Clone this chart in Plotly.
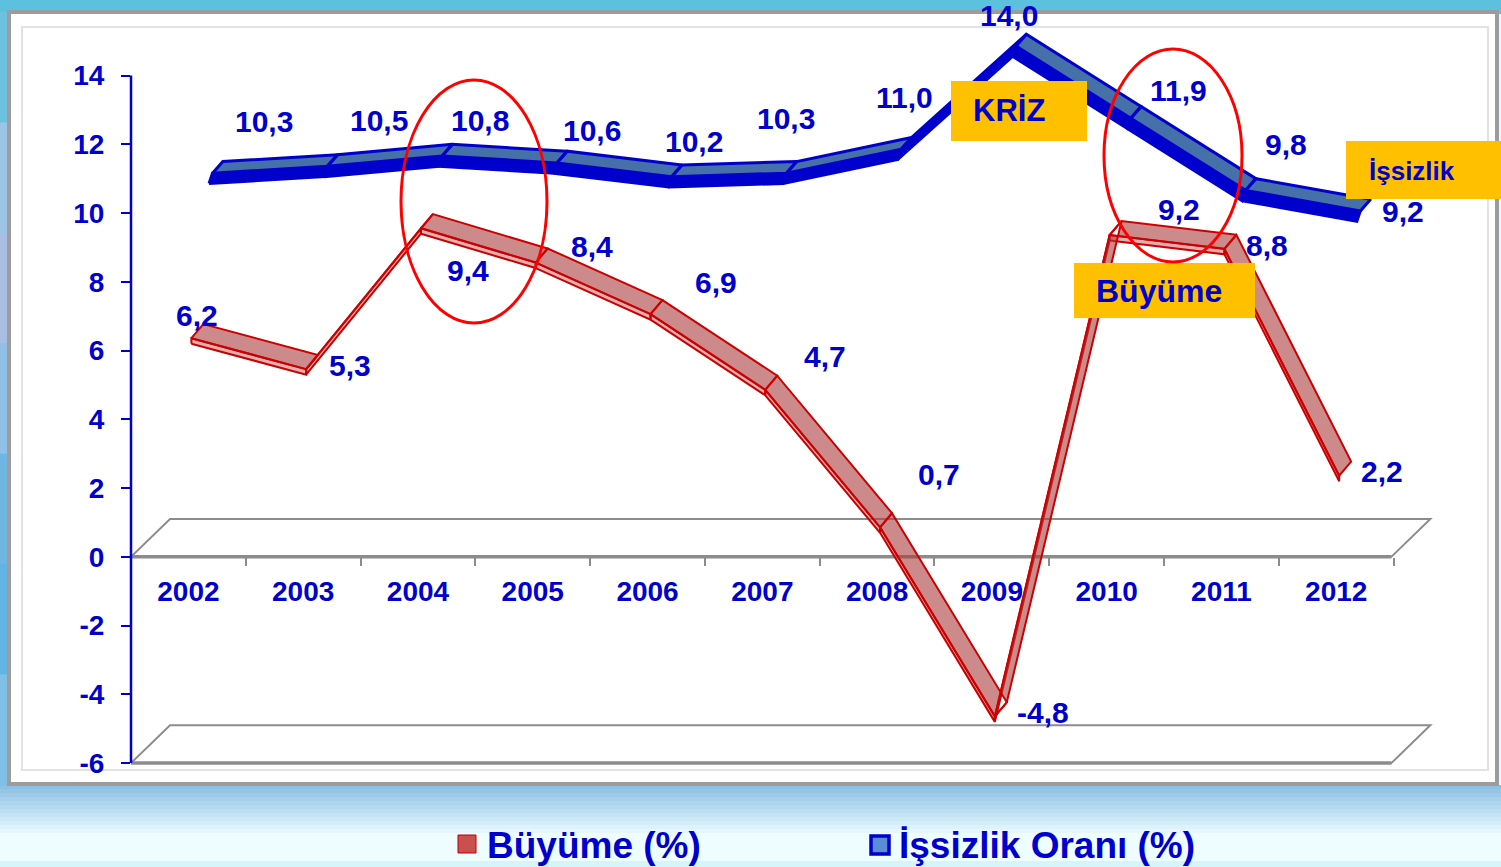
import plotly.graph_objects as go

# ---------------- data ----------------
years = ['2002', '2003', '2004', '2005', '2006', '2007', '2008', '2009', '2010', '2011', '2012']
buyume = [6.2, 5.3, 9.4, 8.4, 6.9, 4.7, 0.7, -4.8, 9.2, 8.8, 2.2]
issizlik = [10.3, 10.5, 10.8, 10.6, 10.2, 10.3, 11.0, 14.0, 11.9, 9.8, 9.2]
y_ticks = [-6, -4, -2, 0, 2, 4, 6, 8, 10, 12, 14]
series_names = ['Büyüme (%)', 'İşsizlik Oranı (%)']
callouts = ['KRİZ', 'İşsizlik', 'Büyüme']

# ---------------- layout constants ----------------
W, H = 1501, 867
ML, MR, MT, MB = 131, 50, 24, 97
PW, PH = W - ML - MR, H - MT - MB
XR = [-0.5, 11.0]
YR = [-6.2, 15.5]
BLUE = '#0000CC'
FONT = 'Liberation Sans, Arial, sans-serif'


def xp(px):
    return (px - ML) / PW


def yp(py):
    return (H - MB - py) / PH


def ydata_to_paper(v):
    return (v - YR[0]) / (YR[1] - YR[0])


def fmt(v):
    return f'{v:.1f}'.replace('.', ',')


def band(vals, a, b):
    """3D ribbon: one parallelogram per segment between offset a and offset b."""
    xs, ys = [], []
    for i in range(len(vals) - 1):
        f0 = (i + a[0], vals[i] + a[1])
        f1 = (i + 1 + a[0], vals[i + 1] + a[1])
        b1 = (i + 1 + b[0], vals[i + 1] + b[1])
        b0 = (i + b[0], vals[i] + b[1])
        for p in (f0, f1, b1, b0, f0):
            xs.append(p[0])
            ys.append(p[1])
        xs.append(None)
        ys.append(None)
    return xs, ys


fig = go.Figure()

# İşsizlik ribbon (back row)
xs, ys = band(issizlik, (0.18, 0.56), (0.21, 0.86))
fig.add_trace(go.Scatter(x=xs, y=ys, mode='lines', fill='toself', fillcolor=BLUE,
                         line=dict(color=BLUE, width=3), hoverinfo='skip', showlegend=False))
xs, ys = band(issizlik, (0.21, 0.86), (0.30, 1.2))
fig.add_trace(go.Scatter(x=xs, y=ys, mode='lines', fill='toself', fillcolor='#4670A8',
                         line=dict(color=BLUE, width=3), hoverinfo='skip', showlegend=False))

# Büyüme ribbon (front row)
xs, ys = band(buyume, (0.026, 0.0), (0.026, 0.16))
fig.add_trace(go.Scatter(x=xs, y=ys, mode='lines', fill='toself', fillcolor='rgba(200,110,110,0.55)',
                         line=dict(color='#CC0000', width=2), hoverinfo='skip', showlegend=False))
xs, ys = band(buyume, (0.026, 0.16), (0.13, 0.57))
fig.add_trace(go.Scatter(x=xs, y=ys, mode='lines', fill='toself', fillcolor='rgba(170,60,60,0.6)',
                         line=dict(color='#CC0000', width=2), hoverinfo='skip', showlegend=False))

shapes = []
annotations = []

# ---------- background decoration ----------
top_c, mid_c, bot_c = (141, 192, 227), (238, 253, 255), (214, 245, 250)
for k in range(21):
    y0 = 785 + k * 4
    t = min(1.0, k / 12)
    c = tuple(int(top_c[j] + (mid_c[j] - top_c[j]) * t) for j in range(3))
    if k >= 19:
        c = bot_c
    shapes.append(dict(type='rect', xref='paper', yref='paper', layer='below',
                       x0=xp(0), x1=xp(W), y0=yp(y0 + 4.5), y1=yp(y0),
                       fillcolor='rgb(%d,%d,%d)' % c, line=dict(width=0)))
shapes.append(dict(type='rect', xref='paper', yref='paper', layer='below',
                   x0=xp(0), x1=xp(W), y0=yp(14), y1=yp(0),
                   fillcolor='#5CC1DC', line=dict(width=0)))
left_cols = ['#6cc2de', '#9cc4e4', '#aabde2', '#90c0e6', '#6fb6e2', '#62b4e2', '#7fc0e6']
step = (785 - 12) / len(left_cols)
for k, c in enumerate(left_cols):
    shapes.append(dict(type='rect', xref='paper', yref='paper', layer='below',
                       x0=xp(0), x1=xp(9), y0=yp(12 + (k + 1) * step + 1), y1=yp(12 + k * step),
                       fillcolor=c, line=dict(width=0)))
shapes.append(dict(type='rect', xref='paper', yref='paper', layer='below',
                   x0=xp(9), x1=xp(1497), y0=yp(784), y1=yp(12),
                   fillcolor='white', line=dict(color='#9C9C9C', width=4)))
shapes.append(dict(type='rect', xref='paper', yref='paper', layer='below',
                   x0=xp(22), x1=xp(1488), y0=yp(770), y1=yp(27),
                   fillcolor='rgba(0,0,0,0)', line=dict(color='#E2E2E2', width=2)))

# ---------- 3D floor planes ----------
DX, DY = 0.34, 1.1
X_END = 10.48
for base in (0, -6):
    shapes.append(dict(type='path', xref='x', yref='y', layer='below',
                       path=f'M {XR[0]},{base} L {X_END},{base} L {X_END + DX},{base + DY} '
                            f'L {XR[0] + DX},{base + DY} Z',
                       line=dict(color='#8C8C8C', width=2)))
    shapes.append(dict(type='line', xref='x', yref='y', layer='below',
                       x0=XR[0], x1=X_END, y0=base, y1=base,
                       line=dict(color='#8C8C8C', width=3.5)))

shapes.append(dict(type='line', xref='paper', yref='paper', layer='above',
                   x0=0, x1=0, y0=ydata_to_paper(y_ticks[0]), y1=ydata_to_paper(y_ticks[-1]),
                   line=dict(color=BLUE, width=2.5)))

# ---------- data labels ----------
iss_off = [(76, -81), (76, -75), (62, -65), (59, -62), (46, -65), (24, -84),
           (27, -81), (17, -60), (72, -57), (65, -75), (67, -29)]
buy_off = [(9, -28), (47, -9), (50, 37), (59, -22), (68, -37), (63, -39),
           (62, -58), (51, -9), (72, -31), (46, -9), (46, -10)]
for i, v in enumerate(issizlik):
    annotations.append(dict(x=i, y=v, xref='x', yref='y', text=f'<b>{fmt(v)}</b>',
                            showarrow=False, xshift=iss_off[i][0], yshift=-iss_off[i][1],
                            font=dict(family=FONT, size=30, color=BLUE)))
for i, v in enumerate(buyume):
    annotations.append(dict(x=i, y=v, xref='x', yref='y', text=f'<b>{fmt(v)}</b>',
                            showarrow=False, xshift=buy_off[i][0], yshift=-buy_off[i][1],
                            font=dict(family=FONT, size=30, color=BLUE)))

# ---------- callout boxes ----------
boxes = [((951, 81, 1087, 141), (971, 111), 31),
         ((1346, 141, 1510, 199), (1367, 171), 26),
         ((1074, 263, 1255, 318), (1094, 291), 32)]
for (bx0, by0, bx1, by1), (tx, ty), fs in boxes:
    shapes.append(dict(type='rect', xref='paper', yref='paper', layer='above',
                       x0=xp(bx0), x1=xp(bx1), y0=yp(by1), y1=yp(by0),
                       fillcolor='#FFC000', line=dict(width=0)))
for (box, (tx, ty), fs), label in zip(boxes, callouts):
    annotations.append(dict(x=xp(tx), y=yp(ty), xref='paper', yref='paper', xanchor='left',
                            yanchor='middle', showarrow=False, text=f'<b>{label}</b>',
                            font=dict(family=FONT, size=fs, color=BLUE)))

# ---------- red ellipses ----------
for ex0, ey0, ex1, ey1 in [(401, 80, 547, 323), (1104, 49, 1242, 262)]:
    shapes.append(dict(type='circle', xref='paper', yref='paper', layer='above',
                       x0=xp(ex0), x1=xp(ex1), y0=yp(ey1), y1=yp(ey0),
                       line=dict(color='#FF0000', width=3)))

# ---------- legend ----------
shapes.append(dict(type='rect', xref='paper', yref='paper', layer='above',
                   x0=xp(458), x1=xp(476), y0=yp(853), y1=yp(835),
                   fillcolor='#C9504D', line=dict(color='#C00000', width=1)))
shapes.append(dict(type='rect', xref='paper', yref='paper', layer='above',
                   x0=xp(871), x1=xp(889), y0=yp(854), y1=yp(836),
                   fillcolor='#5B8DD6', line=dict(color=BLUE, width=3.5)))
for tx, name in zip((485, 897), series_names):
    annotations.append(dict(x=xp(tx), y=yp(845), xref='paper', yref='paper', xanchor='left',
                            yanchor='middle', showarrow=False, text=f'<b>{name}</b>',
                            font=dict(family=FONT, size=37, color=BLUE)))

fig.update_layout(
    width=W, height=H,
    margin=dict(l=ML, r=MR, t=MT, b=MB),
    paper_bgcolor='#E8F8FC',
    plot_bgcolor='rgba(0,0,0,0)',
    showlegend=False,
    shapes=shapes,
    annotations=annotations,
    xaxis=dict(range=XR, tickmode='array', tickvals=list(range(len(years))), ticktext=years,
               showgrid=False, zeroline=False, showline=False, ticks='',
               anchor='free', position=ydata_to_paper(0), ticklabelstandoff=15,
               tickfont=dict(family=FONT, size=28, color=BLUE, weight='bold'),
               minor=dict(tickmode='array', tickvals=[k - 0.5 for k in range(len(years) + 1)],
                          ticks='outside', ticklen=8, tickcolor='#8C8C8C', tickwidth=2,
                          showgrid=False)),
    yaxis=dict(range=YR, tickmode='array', tickvals=y_ticks, ticktext=[str(t) for t in y_ticks],
               showgrid=False, zeroline=False, showline=False,
               ticks='outside', ticklen=9, tickcolor=BLUE, tickwidth=1.5,
               ticklabelstandoff=11,
               tickfont=dict(family=FONT, size=28, color=BLUE, weight='bold')),
)

fig.write_html('out.html', config={'displayModeBar': False},
               post_script="document.body.style.margin='0';document.body.style.overflow='hidden';")
